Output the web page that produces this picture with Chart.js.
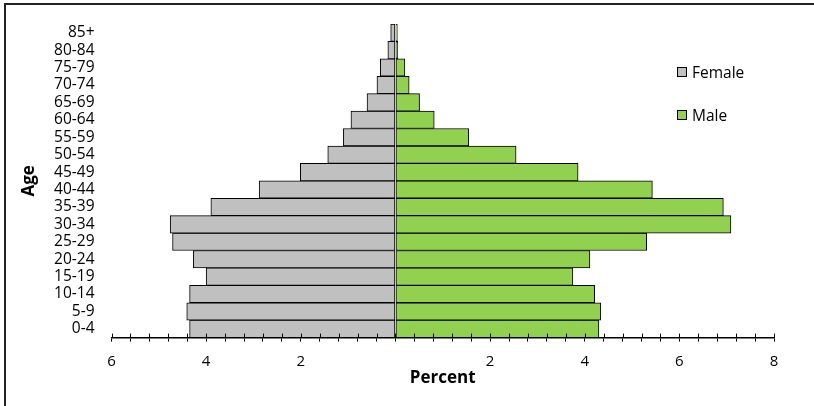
<!DOCTYPE html>
<html>
<head>
<meta charset="utf-8">
<script src="https://cdn.jsdelivr.net/npm/chart.js@4.4.1/dist/chart.umd.min.js"></script>
<style>
  body { margin: 0; background: #fff; font-family: 'Open Sans', sans-serif; }
  #wrap { position: relative; width: 814px; height: 406px; overflow: hidden; }
  #frame { position: absolute; left: 4px; top: 3px; width: 900px; height: 500px; border: 2px solid #222; pointer-events: none; }
  #legend { position: absolute; left: 677px; top: 62px; font-size: 15.5px; color: #000; }
  .item { display: flex; align-items: center; height: 20px; margin-bottom: 23px; }
  .box { width: 8px; height: 8px; border: 1px solid #000; margin-right: 5px; }
</style>
</head>
<body>
<div id="wrap">
  <canvas id="pyramid"></canvas>
  <div id="frame"></div>
  <div id="legend"></div>
</div>
<script>
const ageGroups = ['0-4', '5-9', '10-14', '15-19', '20-24', '25-29', '30-34', '35-39', '40-44',
    '45-49', '50-54', '55-59', '60-64', '65-69', '70-74', '75-79', '80-84', '85+'];
const femalePct = [4.35, 4.41, 4.35, 4.00, 4.27, 4.71, 4.76, 3.90, 2.88,
    2.01, 1.43, 1.10, 0.94, 0.60, 0.39, 0.32, 0.16, 0.10];
const malePct = [4.30, 4.34, 4.21, 3.75, 4.11, 5.31, 7.09, 6.93, 5.43,
    3.86, 2.55, 1.55, 0.82, 0.51, 0.29, 0.20, 0.05, 0.04];
const seriesNames = ['Female', 'Male'];
const seriesColors = ['#C0C0C0', '#92D050'];

const FONT = "'Open Sans', sans-serif";

// tick marks that cross the axis line (upper half; lower half comes from the grid)
const crossTicks = {
    id: 'crossTicks',
    afterDatasetsDraw(chart) {
        const x = chart.scales.x;
        const ctx = chart.ctx;
        ctx.save();
        ctx.strokeStyle = '#000';
        ctx.lineWidth = 1;
        x.ticks.forEach((t, i) => {
            const px = Math.round(x.getPixelForTick(i)) + 0.5;
            ctx.beginPath();
            ctx.moveTo(px, x.top - 4);
            ctx.lineTo(px, x.top);
            ctx.stroke();
        });
        ctx.restore();
    }
};

const ctx = document.getElementById('pyramid').getContext('2d');
const chart = new Chart(ctx, {
    type: 'bar',
    data: {
        labels: ageGroups,
        datasets: [{
            label: seriesNames[0],
            data: femalePct.map(v => -v),
            backgroundColor: seriesColors[0],
            borderColor: '#000',
            borderWidth: 1,
            borderSkipped: false
        }, {
            label: seriesNames[1],
            data: malePct,
            backgroundColor: seriesColors[1],
            borderColor: '#000',
            borderWidth: 1,
            borderSkipped: false
        }]
    },
    options: {
        indexAxis: 'y',
        responsive: true,
        maintainAspectRatio: false,
        animation: false,
        datasets: { bar: { categoryPercentage: 1, barPercentage: 1 } },
        layout: { padding: { top: 24, right: 40, left: 0, bottom: 0 } },
        plugins: { legend: { display: false }, tooltip: { enabled: false } },
        scales: {
            x: {
                stacked: true,
                min: -6,
                max: 8,
                afterFit: s => { s.height = 68.4; },
                ticks: {
                    stepSize: 0.4,
                    autoSkip: false,
                    maxRotation: 0,
                    padding: 11,
                    color: '#000',
                    font: { family: FONT, size: 15 },
                    callback: v => {
                        const r = Math.round(v * 10) / 10;
                        if (r === 0 || Math.abs(r % 2) > 1e-6) return '';
                        return Math.abs(r).toString();
                    }
                },
                grid: { drawOnChartArea: false, drawTicks: true, tickLength: 4, color: '#000' },
                border: { display: true, color: '#000', width: 1.5 },
                title: {
                    display: true,
                    text: 'Percent',
                    color: '#000',
                    font: { family: FONT, size: 17, weight: 'bold' },
                    padding: { top: 0, bottom: 18 }
                }
            },
            y: {
                stacked: true,
                reverse: true,
                afterFit: s => { s.width = 111.5; },
                ticks: { autoSkip: false, padding: 9, color: '#000', font: { family: FONT, size: 15.5 } },
                grid: { display: false },
                border: { display: false },
                title: {
                    display: true,
                    text: 'Age',
                    color: '#000',
                    font: { family: FONT, size: 17, weight: 'bold' },
                    padding: { top: 19, bottom: 0 }
                }
            }
        }
    },
    plugins: [crossTicks]
});

// legend built from the chart's datasets
const legendEl = document.getElementById('legend');
chart.data.datasets.forEach(ds => {
    const div = document.createElement('div');
    div.className = 'item';
    div.innerHTML = `<span class="box" style="background:${ds.backgroundColor}"></span><span>${ds.label}</span>`;
    legendEl.appendChild(div);
});
</script>
</body>
</html>
